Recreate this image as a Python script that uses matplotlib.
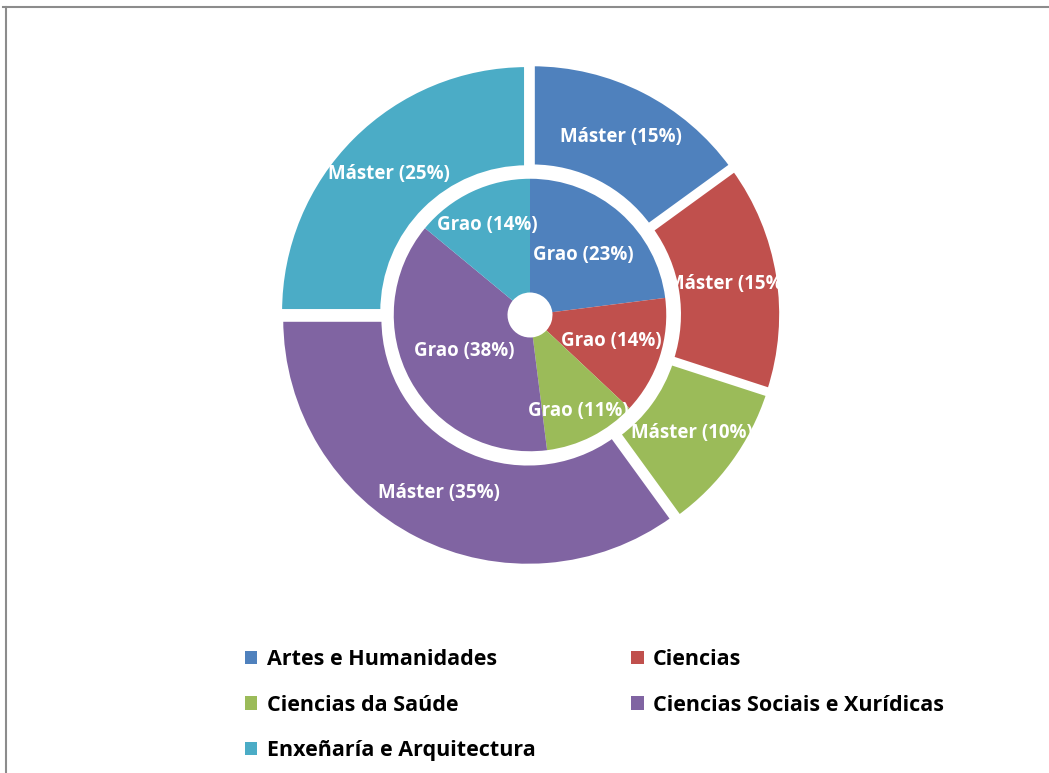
import numpy as np
import matplotlib
matplotlib.use('Agg')
from matplotlib import pyplot as plt
from matplotlib.lines import Line2D
from matplotlib.patches import Patch

plt.rcParams['font.family'] = ['Open Sans', 'DejaVu Sans']

areas = ['Artes e Humanidades', 'Ciencias', 'Ciencias da Saúde',
         'Ciencias Sociais e Xurídicas', 'Enxeñaría e Arquitectura']
master = [15, 15, 10, 35, 25]
grao = [23, 14, 11, 38, 14]
colors = ['#4F81BD', '#C0504D', '#9BBB59', '#8064A2', '#4BACC6']

# where the inner labels sit (fraction of the outer radius), as in the original
grao_label_r = [0.32, 0.34, 0.43, 0.30, 0.40]

fig = plt.figure(figsize=(10.49, 7.73), dpi=100)
ax = fig.add_axes([275 / 1049, (773 - 570) / 773, 510 / 1049, 510 / 773])

# outer ring (Máster)
ax.pie(master, colors=colors, startangle=90, counterclock=False, radius=0.99,
       explode=[0.018] * 5,
       autopct=lambda p: 'Máster (%.0f%%)' % p, pctdistance=0.79,
       wedgeprops=dict(width=0.415, edgecolor='white', linewidth=4),
       textprops=dict(color='white', fontsize=13.5, fontweight='bold'))

# inner ring (Grao)
wedges, _, autotexts = ax.pie(
    grao, colors=colors, startangle=90, counterclock=False, radius=0.545,
    autopct=lambda p: 'Grao (%.0f%%)' % p, pctdistance=0.58,
    wedgeprops=dict(width=0.455, edgecolor='none', linewidth=0),
    textprops=dict(color='white', fontsize=13.5, fontweight='bold'))
for w, t, r in zip(wedges, autotexts, grao_label_r):
    ang = np.deg2rad((w.theta1 + w.theta2) / 2)
    t.set_position((r * np.cos(ang), r * np.sin(ang)))

ax.set_xlim(-1.02, 1.02)
ax.set_ylim(-1.02, 1.02)
ax.set_aspect('equal')

# legend, ordered so it reads row by row
handles = [Patch(facecolor=c, edgecolor='none') for c in colors]
order = [0, 2, 4, 1, 3]
fig.legend([handles[i] for i in order], [areas[i] for i in order],
           ncol=2, loc='upper left', bbox_to_anchor=(245 / 1049, (773 - 649) / 773),
           frameon=False, borderpad=0, borderaxespad=0,
           handlelength=0.58, handleheight=0.58, handletextpad=0.42,
           labelspacing=1.14, columnspacing=4.45,
           prop=dict(family='Open Sans', weight='bold', size=15.5))

# chart area border
fig.add_artist(Line2D([3 / 1049, 1], [1 - 7 / 773, 1 - 7 / 773], color='#8c8c8c', lw=1.5))
fig.add_artist(Line2D([6 / 1049, 6 / 1049], [0, 1 - 7 / 773], color='#8c8c8c', lw=1.5))

fig.savefig('out.png', dpi=100, facecolor='white')
